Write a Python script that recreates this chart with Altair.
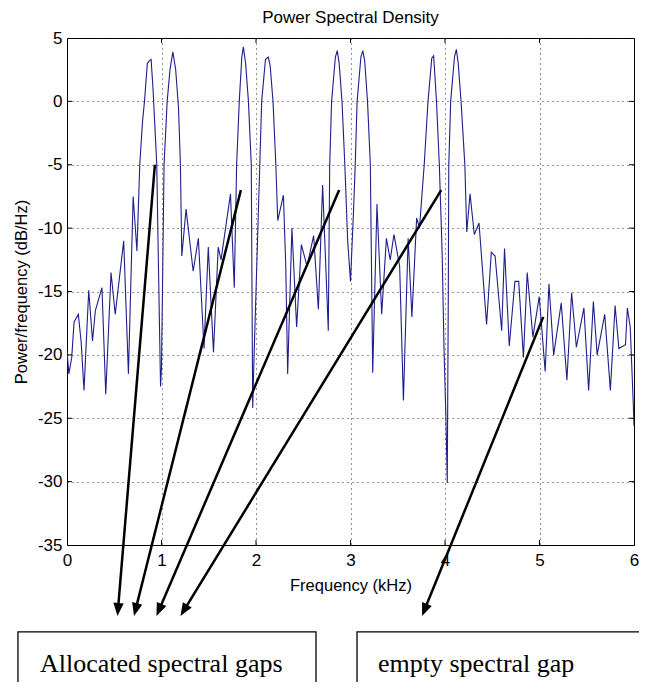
import math
import altair as alt
import pandas as pd

# ---- spectrum ----
freq_khz = [0.00,0.02,0.05,0.075,0.12,0.15,0.18,0.23,0.27,0.30,0.37,0.41,0.466,0.51,0.60,0.65,0.70,0.74,0.77,0.80,
            0.82,0.85,0.87,0.89,0.91,0.93,0.95,0.97,0.99,1.00,1.027,1.06,1.09,1.12,1.15,1.18,1.20,1.215,1.26,1.335,
            1.39,1.45,1.495,1.55,1.60,1.63,1.73,1.77,1.795,1.823,1.85,1.866,1.89,1.92,1.95,1.965,1.98,2.04,2.06,2.10,
            2.13,2.15,2.18,2.21,2.23,2.29,2.315,2.335,2.38,2.43,2.48,2.54,2.61,2.66,2.705,2.765,2.78,2.80,2.84,2.86,
            2.88,2.91,2.94,2.97,3.00,3.03,3.05,3.07,3.11,3.13,3.15,3.18,3.21,3.225,3.235,3.28,3.33,3.38,3.42,3.46,
            3.52,3.56,3.61,3.65,3.70,3.73,3.78,3.82,3.86,3.88,3.91,3.94,3.97,3.99,4.01,4.024,4.035,4.04,4.06,4.10,
            4.12,4.14,4.17,4.21,4.23,4.265,4.31,4.36,4.44,4.49,4.53,4.60,4.63,4.68,4.74,4.78,4.83,4.87,4.93,4.997,
            5.06,5.10,5.15,5.23,5.29,5.34,5.39,5.47,5.52,5.57,5.61,5.69,5.75,5.80,5.84,5.91,5.93,5.96,5.99,6.00]
psd_db = [-19.7,-21.5,-20.2,-17.4,-16.8,-19.0,-22.8,-14.9,-18.9,-16.5,-14.7,-23.1,-13.5,-16.8,-11.0,-21.5,-7.5,-11.8,-5.0,-1.5,
          0.0,3.0,3.2,3.3,1.0,-2.0,-5.0,-14.0,-22.5,-21.0,-5.0,0.0,2.5,3.9,2.5,-0.5,-5.0,-12.2,-8.5,-13.4,
          -10.8,-19.5,-11.5,-19.8,-11.5,-12.5,-7.3,-14.7,-5.0,0.0,3.5,4.3,3.0,0.0,-5.0,-24.2,-20.0,-5.0,0.0,3.3,
          3.5,2.8,0.0,-5.0,-9.4,-7.4,-13.0,-21.5,-10.0,-17.8,-11.3,-13.0,-10.6,-16.4,-6.6,-18.1,-5.0,0.0,3.5,4.0,
          3.0,0.0,-5.0,-11.0,-14.2,-9.0,-5.0,0.0,3.5,4.0,3.2,0.0,-5.0,-15.0,-21.4,-8.1,-16.8,-10.8,-12.5,-10.5,
          -13.0,-23.6,-10.8,-17.0,-9.2,-10.0,-5.0,0.0,3.4,3.6,0.0,-5.0,-12.0,-19.7,-25.0,-30.1,-15.0,-5.0,0.0,3.5,
          4.1,3.0,0.0,-5.0,-10.3,-7.3,-10.5,-9.6,-17.6,-11.9,-12.2,-18.1,-11.6,-19.3,-14.2,-14.2,-20.2,-13.5,-18.6,-15.4,
          -21.3,-14.4,-20.0,-15.9,-22.0,-15.1,-19.4,-16.3,-22.8,-15.8,-20.0,-16.8,-22.8,-16.1,-19.5,-19.2,-16.3,-17.8,-23.4,-25.6]

x_ticks = [0, 1, 2, 3, 4, 5, 6]
y_ticks = [-35, -30, -25, -20, -15, -10, -5, 0, 5]

# ---- annotations (in data units) ----
arrow_start_f = [0.93, 1.84, 2.88, 3.96, 5.04]
arrow_start_db = [-5.0, -7.0, -7.0, -7.0, -17.0]
arrow_tip_f = [0.534, 0.709, 0.947, 1.201, 3.757]
arrow_tip_db = [-40.6, -40.6, -40.6, -40.6, -40.6]

box_labels = ["Allocated spectral gaps", "empty spectral gap"]
box_left_f = [-0.519, 3.069]
box_right_f = [2.635, 6.45]
box_top_db = [-41.86, -41.86]
box_bottom_db = [-50.0, -50.0]
label_f = [-0.286, 3.291]
label_db = [-45.0, -45.0]

# ---- layout / style ----
W, H = 567, 507
XMIN, XMAX, YMIN, YMAX = 0, 6, -35, 5
PX_X = W / (XMAX - XMIN)
PX_Y = H / (YMAX - YMIN)
FONT = "Liberation Sans"
LINE_COLOR = "#1f1f8c"

xs = alt.Scale(domain=[XMIN, XMAX], nice=False, zero=False)
ys = alt.Scale(domain=[YMIN, YMAX], nice=False, zero=False)
x_axis = alt.Axis(values=x_ticks, title="Frequency (kHz)", ticks=False, labelPadding=7,
                  titlePadding=9, grid=True, labelFlush=False, labelExpr="'' + datum.value")
y_axis = alt.Axis(values=y_ticks, title="Power/frequency (dB/Hz)", ticks=False, labelPadding=5,
                  titlePadding=8, grid=True, labelFlush=False, labelExpr="'' + datum.value")


def X(field):
    return alt.X(field, type="quantitative", scale=xs, axis=x_axis)


def Y(field):
    return alt.Y(field, type="quantitative", scale=ys, axis=y_axis)


spec_df = pd.DataFrame({"x": freq_khz, "y": psd_db})
line = alt.Chart(spec_df).mark_line(color=LINE_COLOR, strokeWidth=1.1, clip=True).encode(
    x=X("x"), y=Y("y"))

# inner tick marks on all four sides
tl = 5
rows = []
for t in y_ticks[1:-1]:
    rows.append({"x": XMIN, "x2": XMIN + tl / PX_X, "y": t, "y2": t})
    rows.append({"x": XMAX - tl / PX_X, "x2": XMAX, "y": t, "y2": t})
for t in x_ticks[1:-1]:
    rows.append({"x": t, "x2": t, "y": YMIN, "y2": YMIN + tl / PX_Y})
    rows.append({"x": t, "x2": t, "y": YMAX - tl / PX_Y, "y2": YMAX})
ticks = alt.Chart(pd.DataFrame(rows)).mark_rule(color="black", strokeWidth=1).encode(
    x=X("x"), x2="x2", y=Y("y"), y2="y2")

# arrows
head_len = 13
arows = []
for f0, d0, f1, d1 in zip(arrow_start_f, arrow_start_db, arrow_tip_f, arrow_tip_db):
    dx = (f1 - f0) * PX_X
    dy = -(d1 - d0) * PX_Y
    n = math.hypot(dx, dy)
    ux, uy = dx / n, dy / n
    ang = math.degrees(math.atan2(-ux, uy)) % 360
    arows.append({"x": f0, "y": d0,
                  "x2": f1 - (head_len * 0.6) * ux / PX_X,
                  "y2": d1 + (head_len * 0.6) * uy / PX_Y,
                  "tx": f1, "ty": d1, "ang": ang})
arrow_df = pd.DataFrame(arows)
shafts = alt.Chart(arrow_df).mark_rule(color="black", strokeWidth=2.5, clip=False).encode(
    x=X("x"), x2="x2", y=Y("y"), y2="y2")
heads = alt.Chart(arrow_df).mark_point(
    shape="M0,0L-0.4,-1L0.4,-1Z", filled=True, color="black", opacity=1,
    size=(2 * head_len) ** 2, strokeWidth=0, clip=False
).encode(x=X("tx"), y=Y("ty"), angle=alt.Angle("ang:Q", scale=None))

# boxes with labels
box_df = pd.DataFrame({"x": box_left_f, "x2": box_right_f, "y": box_top_db, "y2": box_bottom_db,
                       "lx": label_f, "ly": label_db, "label": box_labels})
boxes = alt.Chart(box_df).mark_rect(fillOpacity=0, stroke="black", strokeWidth=1.3, clip=False).encode(
    x=X("x"), x2="x2", y=Y("y"), y2="y2")
texts = alt.Chart(box_df).mark_text(align="left", baseline="alphabetic", font="Liberation Serif",
                                    fontSize=26, color="black", clip=False).encode(
    x=X("lx"), y=Y("ly"), text="label:N")

chart = alt.layer(line, ticks, shafts, heads, boxes, texts).properties(
    width=W, height=H,
    padding={"left": 59, "top": 30, "right": 5, "bottom": 137},
    autosize=alt.AutoSizeParams(type="none"),
    background="white",
    title=alt.TitleParams("Power Spectral Density", font=FONT, fontSize=17, fontWeight="normal",
                          color="black", offset=2),
).configure_view(stroke="black", strokeWidth=1).configure_axis(
    labelFont=FONT, labelFontSize=17, labelColor="black", titleFont=FONT, titleFontSize=16.5,
    titleFontWeight="normal", titleColor="black", domainColor="black", domainWidth=1,
    gridColor="#111111", gridDash=[1, 4], gridWidth=1, gridOpacity=0.9
)

chart.save("out.html", embed_options={"renderer": "svg", "actions": False})
